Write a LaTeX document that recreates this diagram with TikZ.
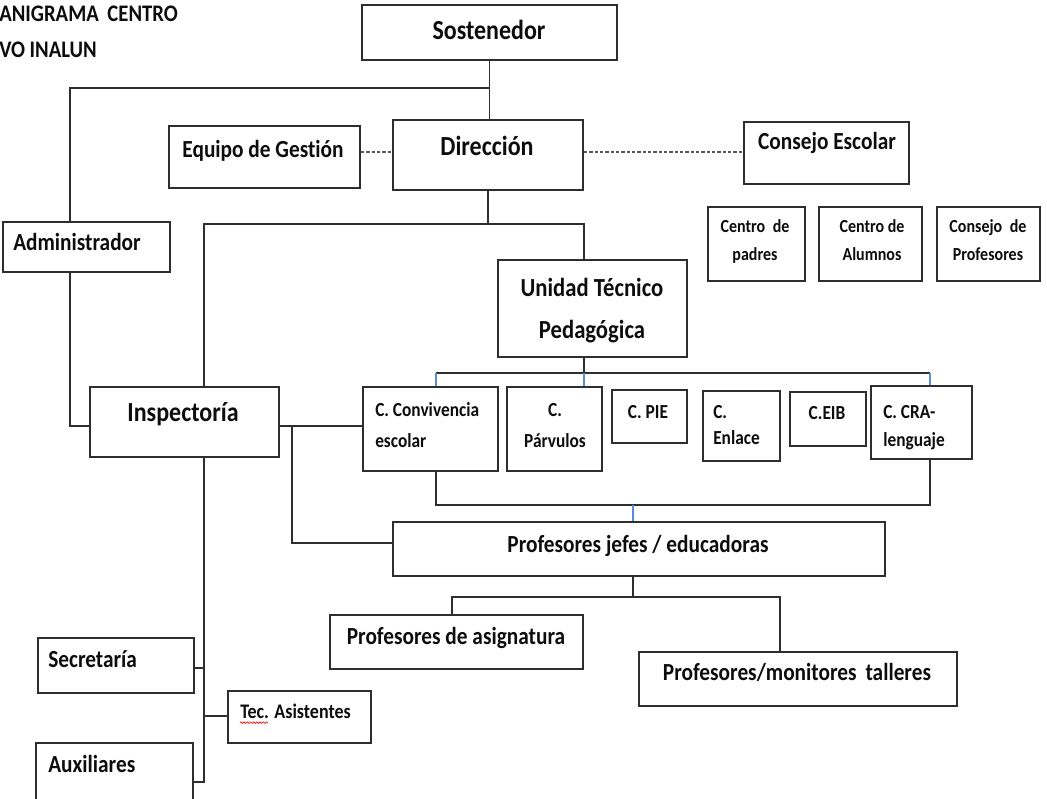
\documentclass[tikz,border=0pt]{standalone}
\usepackage{fontspec}
\setmainfont{Carlito}[Ligatures={NoCommon}]
\usetikzlibrary{fit,decorations.pathmorphing}
\definecolor{lncol}{HTML}{2E2E2E}
\definecolor{tickcol}{HTML}{5B8DD6}
\definecolor{txtcol}{HTML}{0D0D0D}
\newcommand\tl[1]{\scalebox{1}[1.15]{#1}}
\begin{document}
\begin{tikzpicture}[x=0.75pt,y=-0.75pt,
  box/.style={draw=lncol,line width=1.4pt,inner sep=0pt},
  conn/.style={draw=lncol,line width=1.3pt},
  dashconn/.style={draw=lncol!80,line width=1.2pt,dash pattern=on 2.6pt off 1.4pt},
  tickln/.style={draw=tickcol,line width=0.9pt},
  tx/.style={inner sep=0pt,anchor=base,text=txtcol},
  txl/.style={tx,anchor=base west},
  fA/.style={font=\bfseries\fontsize{18}{21}\selectfont},
  fB/.style={font=\bfseries\fontsize{17}{20}\selectfont},
  fC/.style={font=\bfseries\fontsize{16}{19}\selectfont},
  fD/.style={font=\bfseries\fontsize{13}{15}\selectfont},
  fE/.style={font=\bfseries\fontsize{12}{14}\selectfont},
  fT/.style={font=\bfseries\fontsize{15.5}{17}\selectfont}
]
\useasboundingbox (0,0) rectangle (1047,799);

% title
\node[txl,fT] (title1) at (-1,22) {\tl{ANIGRAMA\hspace{3pt} CENTRO}};
\node[txl,fT] (title2) at (-1,58) {\tl{VO INALUN}};

% boxes
\node[box,fit={(362,5)(617,60)}] (sos) {};
\node[box,fit={(393,120)(583,190)}] (dir) {};
\node[box,fit={(169,126)(360,188)}] (eq) {};
\node[box,fit={(744,122)(909,184)}] (ce) {};
\node[box,fit={(3,222)(170,272)}] (adm) {};
\node[box,fit={(708,207)(805,281)}] (cpad) {};
\node[box,fit={(819,207)(922,281)}] (calu) {};
\node[box,fit={(937,207)(1040,281)}] (cprof) {};
\node[box,fit={(498,260)(687,357)}] (utp) {};
\node[box,fit={(90,387)(279,457)}] (insp) {};
\node[box,fit={(363,387)(498,471)}] (cconv) {};
\node[box,fit={(507,387)(602,471)}] (cparv) {};
\node[box,fit={(612,390)(687,443)}] (cpie) {};
\node[box,fit={(703,391)(780,461)}] (cenl) {};
\node[box,fit={(790,392)(866,446)}] (ceib) {};
\node[box,fit={(871,386)(972,459)}] (ccra) {};
\node[box,fit={(393,522)(885,576)}] (pj) {};
\node[box,fit={(330,615)(583,669)}] (pa) {};
\node[box,fit={(639,652)(957,706)}] (pm) {};
\node[box,fit={(38,638)(194,693)}] (sec) {};
\node[box,fit={(228,691)(371,743)}] (tec) {};
\node[box,fit={(36,743)(193,802)}] (aux) {};

% texts
\node[tx,fA] (sos-t) at (489,40) {\tl{Sostenedor}};
\node[tx,fA] (dir-t) at (487,156) {\tl{Dirección}};
\node[tx,fC] (eq-t) at (263,157) {\tl{Equipo de Gestión}};
\node[tx,fC] (ce-t) at (827,150) {\tl{Consejo Escolar}};
\node[txl,fC] (adm-t) at (13,250) {\tl{Administrador}};
\node[tx,fE] (cpad-t1) at (755,232) {\tl{Centro\hspace{3pt} de}};
\node[tx,fE] (cpad-t2) at (755,260) {\tl{padres}};
\node[tx,fE] (calu-t1) at (872,232) {\tl{Centro de}};
\node[tx,fE] (calu-t2) at (872,260) {\tl{Alumnos}};
\node[tx,fE] (cprof-t1) at (988,232) {\tl{Consejo\hspace{3pt} de}};
\node[tx,fE] (cprof-t2) at (988,260) {\tl{Profesores}};
\node[tx,fB] (utp-t1) at (592,296) {\tl{Unidad Técnico}};
\node[tx,fB] (utp-t2) at (592,338) {\tl{Pedagógica}};
\node[tx,fA] (insp-t) at (183,421) {\tl{Inspectoría}};
\node[txl,fD] (cconv-t1) at (375,416) {\tl{C. Convivencia}};
\node[txl,fD] (cconv-t2) at (375,447) {\tl{escolar}};
\node[tx,fD] (cparv-t1) at (555,416) {\tl{C.}};
\node[tx,fD] (cparv-t2) at (555,447) {\tl{Párvulos}};
\node[tx,fD] (cpie-t) at (648,418) {\tl{C. PIE}};
\node[txl,fD] (cenl-t1) at (713,418) {\tl{C.}};
\node[txl,fD] (cenl-t2) at (713,444) {\tl{Enlace}};
\node[tx,fD] (ceib-t) at (827,419) {\tl{C.EIB}};
\node[txl,fD] (ccra-t1) at (883,418) {\tl{C. CRA-}};
\node[txl,fD] (ccra-t2) at (883,446) {\tl{lenguaje}};
\node[tx,fC] (pj-t) at (638,552) {\tl{Profesores jefes / educadoras}};
\node[tx,fC] (pa-t) at (456,644) {\tl{Profesores de asignatura}};
\node[tx,fC] (pm-t) at (797,680) {\tl{Profesores/monitores\hspace{3pt} talleres}};
\node[txl,fC] (sec-t) at (48,667) {\tl{Secretaría}};
\node[txl,fD,font=\bfseries\fontsize{13.5}{16}\selectfont] (tec-t) at (240,718) {\tl{Tec. Asistentes}};
\node[txl,fC] (aux-t) at (48,772) {\tl{Auxiliares}};
\draw[red,line width=0.5pt,decorate,decoration={snake,amplitude=0.6pt,segment length=2.4pt}]
  ([yshift=-3.5pt]tec-t.base west) -- ++(28,0);

% junction coordinates
\coordinate (jS) at (489.5,88);
\coordinate (jA) at (70,88);
\coordinate (jAI) at (70,426);
\coordinate (jD) at (488,224);
\coordinate (jL) at (204,224);
\coordinate (jR) at (584,224);
\coordinate (dy) at (0,152);
\coordinate (b1) at (436,373);
\coordinate (b2) at (584,373);
\coordinate (b3) at (930,373);
\coordinate (c1) at (436,505);
\coordinate (c2) at (633,505);
\coordinate (c3) at (930,505);
\coordinate (iy) at (0,426);
\coordinate (k1) at (292,426);
\coordinate (k2) at (292,543);
\coordinate (p1) at (633,597);
\coordinate (pL) at (452,597);
\coordinate (pR) at (780,597);
\coordinate (sSec) at (204,668);
\coordinate (sTec) at (204,716);
\coordinate (sEnd) at (204,782);

% connectors
\draw[conn] (sos.south) -- (sos.south |- dir.north);
\draw[conn] (jS) -- (jA) -- (jA |- adm.north);
\draw[conn] (jA |- adm.south) -- (jAI) -- (jAI -| insp.west);
\draw[conn] (dir.south) -- (jD);
\draw[conn] (jR |- utp.north) -- (jR) -- (jL) -- (jL |- insp.north);
\draw[dashconn] (eq.east |- dy) -- (dir.west |- dy);
\draw[dashconn] (dir.east |- dy) -- (ce.west |- dy);
\draw[conn] (b2 |- utp.south) -- (b2);
\draw[conn] (b1) -- (b3);
\draw[tickln] (b1) -- (b1 |- cconv.north);
\draw[tickln] (b2) -- (b2 |- cparv.north);
\draw[tickln] (b3) -- (b3 |- ccra.north);
\draw[conn] (c1 |- cconv.south) -- (c1) -- (c3) -- (c3 |- ccra.south);
\draw[tickln] (c2) -- (c2 |- pj.north);
\draw[conn] (insp.east |- iy) -- (cconv.west |- iy);
\draw[conn] (k1) -- (k2) -- (k2 -| pj.west);
\draw[conn] (p1 |- pj.south) -- (p1);
\draw[conn] (pL |- pa.north) -- (pL) -- (pR) -- (pR |- pm.north);
\draw[conn] (jL |- insp.south) -- (sEnd) -- (sEnd -| aux.east);
\draw[conn] (sec.east |- sSec) -- (sSec);
\draw[conn] (sTec) -- (sTec -| tec.west);
\end{tikzpicture}
\end{document}
